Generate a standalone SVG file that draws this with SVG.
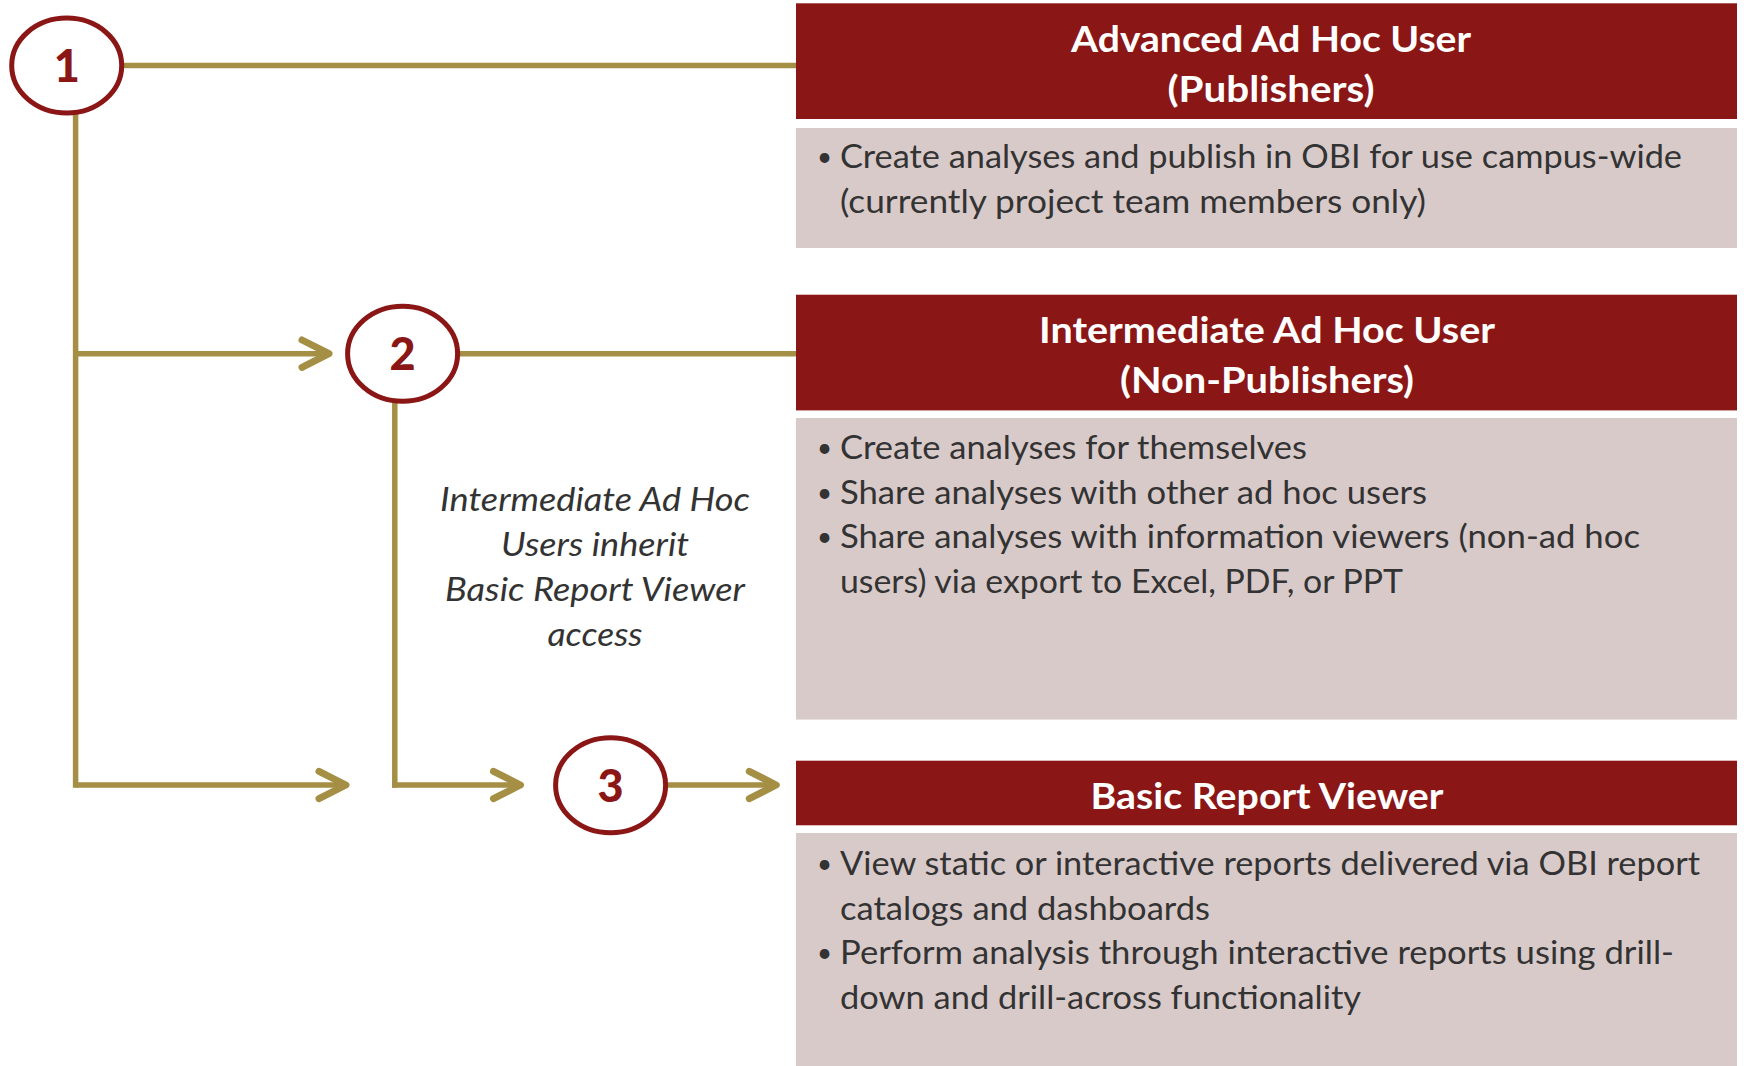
<svg xmlns="http://www.w3.org/2000/svg" width="1744" height="1066" viewBox="0 0 1744 1066">
<style>
.hdr{fill:#8B1616}
.body{fill:#D9CACA}
.ht{font-family:Lato,"Open Sans","Liberation Sans",sans-serif;font-weight:bold;font-size:37px;fill:#FFFFFF;text-anchor:middle}
.bt{font-family:Lato,"Open Sans","Liberation Sans",sans-serif;font-size:33px;fill:#333333}
.bul{font-family:Lato,"Open Sans","Liberation Sans",sans-serif;font-size:26px;fill:#333333}
.it{font-family:Lato,"Open Sans","Liberation Sans",sans-serif;font-style:italic;font-size:33px;fill:#333333;text-anchor:middle}
.num{font-family:Lato,"Open Sans","Liberation Sans",sans-serif;font-weight:900;font-size:45px;fill:#8B1616;text-anchor:middle}
.circ{fill:#FFFFFF;stroke:#8B1616;stroke-width:5}
.ln{fill:none;stroke:#A48F45;stroke-width:5.5}
.ah{fill:none;stroke:#A48F45;stroke-width:7;stroke-linecap:round;stroke-linejoin:round}
</style>
<rect width="1744" height="1066" fill="#FFFFFF"/>
<g id="connectors">
<line class="ln" x1="118" y1="65.6" x2="797" y2="65.6"/>
<line class="ln" x1="75.6" y1="112" x2="75.6" y2="787.7"/>
<line class="ln" x1="75.6" y1="353.7" x2="326" y2="353.7"/>
<polyline class="ah" points="302,340 329,353.7 302,367.4"/>
<line class="ln" x1="75.6" y1="785" x2="343" y2="785"/>
<polyline class="ah" points="319,771.3 346,785 319,798.7"/>
<line class="ln" x1="456" y1="353.7" x2="797" y2="353.7"/>
<line class="ln" x1="394.8" y1="400" x2="394.8" y2="787.7"/>
<line class="ln" x1="392" y1="785" x2="517" y2="785"/>
<polyline class="ah" points="493.5,771.3 520.5,785 493.5,798.7"/>
<line class="ln" x1="665" y1="785" x2="773" y2="785"/>
<polyline class="ah" points="749.3,771.3 776.3,785 749.3,798.7"/>
</g>
<g id="node1">
<ellipse class="circ" cx="66.7" cy="65.6" rx="55" ry="47.5"/>
<text class="num" x="66.7" y="82">1</text>
</g>
<g id="node2">
<ellipse class="circ" cx="402.6" cy="353.7" rx="55" ry="47.5"/>
<text class="num" x="402.6" y="370">2</text>
</g>
<g id="node3">
<ellipse class="circ" cx="610.6" cy="785.2" rx="55" ry="47.5"/>
<text class="num" x="610.6" y="801.5">3</text>
</g>
<g id="advanced">
<rect class="hdr" x="796" y="3.3" width="941" height="115.7"/>
<rect class="body" x="796" y="128" width="941" height="120"/>
<text class="ht" x="1271" y="52" textLength="400" lengthAdjust="spacingAndGlyphs">Advanced Ad Hoc User</text>
<text class="ht" x="1271" y="102" textLength="207" lengthAdjust="spacingAndGlyphs">(Publishers)</text>
<text class="bul" x="817" y="166">•</text>
<text class="bt" x="840" y="168" textLength="842" lengthAdjust="spacingAndGlyphs">Create analyses and publish in OBI for use campus-wide</text>
<text class="bt" x="840" y="212.5" textLength="586" lengthAdjust="spacingAndGlyphs">(currently project team members only)</text>
</g>
<g id="intermediate">
<rect class="hdr" x="796" y="294.7" width="941" height="115.7"/>
<rect class="body" x="796" y="418" width="941" height="301.6"/>
<text class="ht" x="1267" y="342.6" textLength="456" lengthAdjust="spacingAndGlyphs">Intermediate Ad Hoc User</text>
<text class="ht" x="1267" y="392.6" textLength="294" lengthAdjust="spacingAndGlyphs">(Non-Publishers)</text>
<text class="bul" x="817" y="457">•</text>
<text class="bt" x="840" y="459" textLength="467" lengthAdjust="spacingAndGlyphs">Create analyses for themselves</text>
<text class="bul" x="817" y="501.7">•</text>
<text class="bt" x="840" y="503.7" textLength="587" lengthAdjust="spacingAndGlyphs">Share analyses with other ad hoc users</text>
<text class="bul" x="817" y="546">•</text>
<text class="bt" x="840" y="548" textLength="800" lengthAdjust="spacingAndGlyphs">Share analyses with information viewers (non-ad hoc</text>
<text class="bt" x="840" y="593" textLength="563" lengthAdjust="spacingAndGlyphs">users) via export to Excel, PDF, or PPT</text>
</g>
<g id="basic">
<rect class="hdr" x="796" y="760.7" width="941" height="64.6"/>
<rect class="body" x="796" y="833" width="941" height="233"/>
<text class="ht" x="1267" y="809" textLength="353" lengthAdjust="spacingAndGlyphs">Basic Report Viewer</text>
<text class="bul" x="817" y="873">•</text>
<text class="bt" x="840" y="875" textLength="860" lengthAdjust="spacingAndGlyphs">View static or interactive reports delivered via OBI report</text>
<text class="bt" x="840" y="919.7" textLength="370" lengthAdjust="spacingAndGlyphs">catalogs and dashboards</text>
<text class="bul" x="817" y="962">•</text>
<text class="bt" x="840" y="964" textLength="834" lengthAdjust="spacingAndGlyphs">Perform analysis through interactive reports using drill-</text>
<text class="bt" x="840" y="1008.7" textLength="521" lengthAdjust="spacingAndGlyphs">down and drill-across functionality</text>
</g>
<g id="inherit-note">
<text class="it" x="595" y="511" textLength="310" lengthAdjust="spacingAndGlyphs">Intermediate Ad Hoc</text>
<text class="it" x="595" y="556" textLength="188" lengthAdjust="spacingAndGlyphs">Users inherit</text>
<text class="it" x="595" y="600.5" textLength="300" lengthAdjust="spacingAndGlyphs">Basic Report Viewer</text>
<text class="it" x="595" y="645.5" textLength="95" lengthAdjust="spacingAndGlyphs">access</text>
</g>
</svg>
